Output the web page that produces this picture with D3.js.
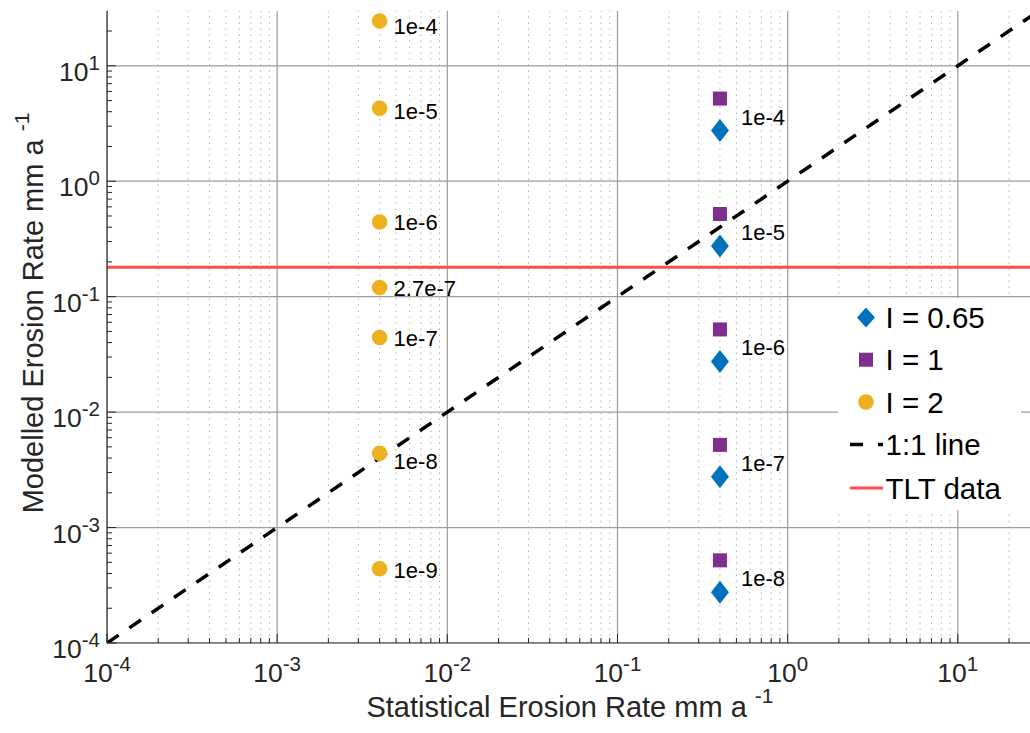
<!DOCTYPE html>
<html>
<head>
<meta charset="utf-8">
<script src="https://cdn.jsdelivr.net/npm/d3@7"></script>
<style>
  html, body { margin: 0; padding: 0; background: #fff; }
  svg { display: block; }
  text { font-family: "Liberation Sans", Arial, Helvetica, sans-serif; }
</style>
</head>
<body>
<svg id="chart" width="1030" height="733"></svg>
<script>
// Axis limits (log10 scale)
const xLimits = [1e-4, 30];
const yLimits = [1e-4, 30];

// Major tick values and their exponent labels
const xTickValues = [1e-4, 1e-3, 1e-2, 1e-1, 1e0, 1e1];
const xTickExps = ["-4", "-3", "-2", "-1", "0", "1"];
const yTickValues = [1e-4, 1e-3, 1e-2, 1e-1, 1e0, 1e1];
const yTickExps = ["-4", "-3", "-2", "-1", "0", "1"];

// Series: I = 2 (circles), statistical rate 0.004
const circleX = 0.004;
const circleValues = [24.4, 4.28, 0.443, 0.120, 0.0443, 0.0044, 0.00044];
const circleLabels = ["1e-4", "1e-5", "1e-6", "2.7e-7", "1e-7", "1e-8", "1e-9"];
// vertical anchor (in data units) of each circle label
const circleLabelAt = [22.2, 4.06, 0.443, 0.1186, 0.0438, 0.0038, 0.000431];

// Series: I = 1 (squares), statistical rate 0.4
const squareX = 0.4;
const squareValues = [5.2, 0.52, 0.052, 0.0052, 0.00052];

// Series: I = 0.65 (diamonds), statistical rate 0.4
const diamondX = 0.4;
const diamondValues = [2.75, 0.275, 0.0275, 0.00275, 0.000275];
const diamondLabels = ["1e-4", "1e-5", "1e-6", "1e-7", "1e-8"];

// Reference lines
const oneToOne = [1e-4, 30];
const tltValue = 0.18;

// Legend entries
const legendLabels = ["I = 0.65", "I = 1", "I = 2", "1:1 line", "TLT data"];

const colors = { diamond: "#0072BD", square: "#7E2F8E", circle: "#EDB120", tlt: "#FF4B4B", axis: "#262626" };

const svg = d3.select("#chart");
const plot = { left: 107, right: 1039, top: 10.7, bottom: 643 };

const x = d3.scaleLog().domain(xLimits).range([plot.left, plot.right]);
const y = d3.scaleLog().domain(yLimits).range([plot.bottom, plot.top]);

svg.append("defs").append("clipPath").attr("id", "plotClip")
  .append("rect").attr("x", plot.left).attr("y", plot.top)
  .attr("width", plot.right - plot.left).attr("height", plot.bottom - plot.top);

// minor tick values (2..9 per decade)
function minors(domain) {
  const out = [];
  for (let e = -5; e <= 2; e++) {
    for (let m = 2; m <= 9; m++) {
      const v = m * Math.pow(10, e);
      if (v > domain[0] && v < domain[1]) out.push(v);
    }
  }
  return out;
}
const xMinor = minors(xLimits);
const yMinor = minors(yLimits);

const grid = svg.append("g").attr("clip-path", "url(#plotClip)");

// vertical minor grid (dotted)
grid.selectAll("line.xminor").data(xMinor).enter().append("line")
  .attr("x1", d => x(d)).attr("x2", d => x(d))
  .attr("y1", plot.top).attr("y2", plot.bottom)
  .attr("stroke", "#8c8c8c").attr("stroke-width", 1)
  .attr("stroke-dasharray", "1,5");

// major grid (solid)
grid.selectAll("line.xmajor").data(xTickValues).enter().append("line")
  .attr("x1", d => x(d)).attr("x2", d => x(d))
  .attr("y1", plot.top).attr("y2", plot.bottom)
  .attr("stroke", "#9c9c9c").attr("stroke-width", 1.2);
grid.selectAll("line.ymajor").data(yTickValues).enter().append("line")
  .attr("x1", plot.left).attr("x2", plot.right)
  .attr("y1", d => y(d)).attr("y2", d => y(d))
  .attr("stroke", "#9c9c9c").attr("stroke-width", 1.2);

const marks = svg.append("g").attr("clip-path", "url(#plotClip)");

// 1:1 line
marks.append("line")
  .attr("x1", x(oneToOne[0])).attr("y1", y(oneToOne[0]))
  .attr("x2", x(oneToOne[1])).attr("y2", y(oneToOne[1]))
  .attr("stroke", "#000").attr("stroke-width", 3.5)
  .attr("stroke-dasharray", "14,13");

// TLT data line
marks.append("line")
  .attr("x1", plot.left).attr("x2", plot.right)
  .attr("y1", y(tltValue)).attr("y2", y(tltValue))
  .attr("stroke", colors.tlt).attr("stroke-width", 3);

const diamondPath = "M0,-11.5 L9,0 L0,11.5 L-9,0 Z";

// squares (I = 1)
marks.selectAll("rect.sq").data(squareValues).enter().append("rect")
  .attr("x", x(squareX) - 7).attr("y", d => y(d) - 7)
  .attr("width", 14).attr("height", 14)
  .attr("fill", colors.square);

// diamonds (I = 0.65)
marks.selectAll("path.dm").data(diamondValues).enter().append("path")
  .attr("d", diamondPath)
  .attr("transform", d => `translate(${x(diamondX)},${y(d)})`)
  .attr("fill", colors.diamond);

// circles (I = 2)
marks.selectAll("circle.c").data(circleValues).enter().append("circle")
  .attr("cx", x(circleX)).attr("cy", d => y(d)).attr("r", 7.8)
  .attr("fill", colors.circle);

// point labels
marks.selectAll("text.cl").data(circleLabelAt).enter().append("text")
  .attr("x", x(circleX) + 14).attr("y", d => y(d) + 8)
  .attr("font-size", 22).attr("fill", "#000")
  .text((d, i) => circleLabels[i]);
marks.selectAll("text.dl").data(diamondValues).enter().append("text")
  .attr("x", x(diamondX) + 21).attr("y", d => y(d) - 6)
  .attr("font-size", 22).attr("fill", "#000")
  .text((d, i) => diamondLabels[i]);

// axes
const axes = svg.append("g");
axes.append("line").attr("x1", plot.left).attr("x2", plot.right)
  .attr("y1", plot.bottom).attr("y2", plot.bottom)
  .attr("stroke", colors.axis).attr("stroke-width", 1.2);
axes.append("line").attr("x1", plot.left).attr("x2", plot.left)
  .attr("y1", plot.top).attr("y2", plot.bottom)
  .attr("stroke", colors.axis).attr("stroke-width", 1.2);

// inward ticks
axes.selectAll("line.xt").data(xTickValues).enter().append("line")
  .attr("x1", d => x(d)).attr("x2", d => x(d))
  .attr("y1", plot.bottom).attr("y2", plot.bottom - 9)
  .attr("stroke", colors.axis);
axes.selectAll("line.xmt").data(xMinor).enter().append("line")
  .attr("x1", d => x(d)).attr("x2", d => x(d))
  .attr("y1", plot.bottom).attr("y2", plot.bottom - 5)
  .attr("stroke", colors.axis);
axes.selectAll("line.yt").data(yTickValues).enter().append("line")
  .attr("x1", plot.left).attr("x2", plot.left + 9)
  .attr("y1", d => y(d)).attr("y2", d => y(d))
  .attr("stroke", colors.axis);
axes.selectAll("line.ymt").data(yMinor).enter().append("line")
  .attr("x1", plot.left).attr("x2", plot.left + 5)
  .attr("y1", d => y(d)).attr("y2", d => y(d))
  .attr("stroke", colors.axis);

// tick labels: 10 with superscript exponent
const xt = axes.selectAll("text.xtl").data(xTickValues).enter().append("text")
  .attr("x", d => x(d)).attr("y", plot.bottom + 39)
  .attr("text-anchor", "middle").attr("fill", colors.axis).attr("font-size", 26.5);
xt.append("tspan").text("10");
xt.append("tspan").attr("dy", -11).attr("font-size", 20.5).text((d, i) => xTickExps[i]);

const yt = axes.selectAll("text.ytl").data(yTickValues).enter().append("text")
  .attr("x", plot.left - 7).attr("y", d => y(d) + 15)
  .attr("text-anchor", "end").attr("fill", colors.axis).attr("font-size", 26.5);
yt.append("tspan").text("10");
yt.append("tspan").attr("dy", -11).attr("font-size", 20.5).text((d, i) => yTickExps[i]);

// axis titles
const xl = svg.append("text").attr("x", 570).attr("y", 717)
  .attr("text-anchor", "middle").attr("fill", colors.axis).attr("font-size", 29);
xl.append("tspan").text("Statistical Erosion Rate mm a ");
xl.append("tspan").attr("dy", -14).attr("font-size", 21).text("-1");

const yl = svg.append("text")
  .attr("transform", "translate(43,313) rotate(-90)")
  .attr("text-anchor", "middle").attr("fill", colors.axis).attr("font-size", 29);
yl.append("tspan").text("Modelled Erosion Rate mm a ");
yl.append("tspan").attr("dy", -14).attr("font-size", 21).text("-1");

// legend
const lg = svg.append("g");
lg.append("rect").attr("x", 838).attr("y", 298).attr("width", 183).attr("height", 212)
  .attr("fill", "#fff");
const rowY = [317.5, 359.7, 402, 444.5, 488];
const symX = 866;
lg.append("path").attr("d", diamondPath)
  .attr("transform", `translate(${symX},${rowY[0]}) scale(1,0.87)`)
  .attr("fill", colors.diamond);
lg.append("rect").attr("x", symX - 7).attr("y", rowY[1] - 7)
  .attr("width", 14).attr("height", 14).attr("fill", colors.square);
lg.append("circle").attr("cx", symX).attr("cy", rowY[2]).attr("r", 7.8)
  .attr("fill", colors.circle);
lg.append("line").attr("x1", 850).attr("x2", 883)
  .attr("y1", rowY[3]).attr("y2", rowY[3])
  .attr("stroke", "#000").attr("stroke-width", 3.5).attr("stroke-dasharray", "13,15");
lg.append("line").attr("x1", 850).attr("x2", 883)
  .attr("y1", rowY[4]).attr("y2", rowY[4])
  .attr("stroke", colors.tlt).attr("stroke-width", 3);
lg.selectAll("text.lt").data(legendLabels).enter().append("text")
  .attr("x", 885.5).attr("y", (d, i) => rowY[i] + 10.5)
  .attr("font-size", 29.5).attr("fill", "#000")
  .text(d => d);
</script>
</body>
</html>
